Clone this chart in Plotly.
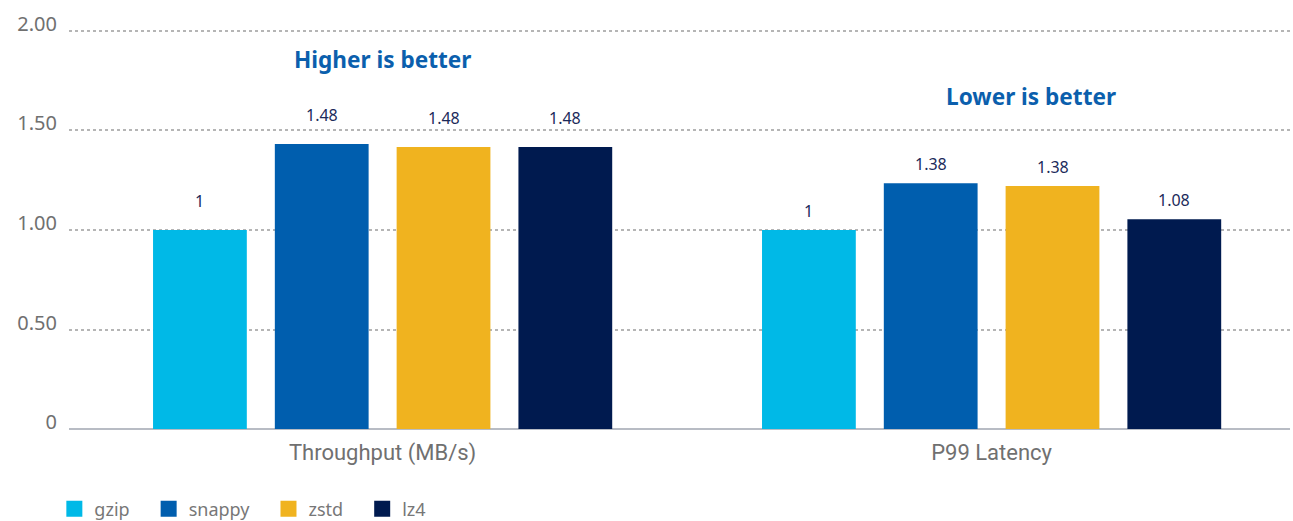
import plotly.graph_objects as go

categories = ["Throughput (MB/s)", "P99 Latency"]
series = ["gzip", "snappy", "zstd", "lz4"]
# bar heights as drawn
values = {
    "gzip":   [1.00, 1.00],
    "snappy": [1.432, 1.235],
    "zstd":   [1.417, 1.221],
    "lz4":    [1.417, 1.054],
}
# printed labels
labels = {
    "gzip":   ["1", "1"],
    "snappy": ["1.48", "1.38"],
    "zstd":   ["1.48", "1.38"],
    "lz4":    ["1.48", "1.08"],
}
colors = {"gzip": "#00b9e7", "snappy": "#005eae", "zstd": "#f0b31f", "lz4": "#001a4f"}
tick_vals = [0, 0.5, 1.0, 1.5, 2.0]
tick_text = ["0", "0.50", "1.00", "1.50", "2.00"]

FONT = "Noto Sans, Lato, sans-serif"
PAD = "\u00a0" * 3

fig = go.Figure()
for s in series:
    fig.add_trace(go.Bar(
        name=s, x=categories, y=values[s], showlegend=False,
        marker=dict(color=colors[s], line=dict(width=0)),
        hoverinfo="skip",
    ))
# legend entries (square swatches)
for s in series:
    fig.add_trace(go.Scatter(
        name=s + PAD, x=[None], y=[None], mode="markers",
        marker=dict(symbol="square", size=20, color=colors[s]),
        hoverinfo="skip",
    ))

# value labels above bars
n = len(series)
group_w = 0.8
slot = group_w / n
label_shift = [29, 19]
for i, s in enumerate(series):
    for j, c in enumerate(categories):
        xpos = j - group_w / 2 + slot * (i + 0.5)
        fig.add_annotation(
            x=xpos, y=values[s][j], text=labels[s][j], showarrow=False,
            yshift=label_shift[j], xref="x", yref="y",
            font=dict(family=FONT, size=16, color="#1b2a5a"),
        )

fig.add_annotation(x=0, y=1.857, xref="x", yref="y", text="<b>Higher is better</b>",
                   showarrow=False, font=dict(family=FONT, size=22.6, color="#0b5fad"))
fig.add_annotation(x=1.065, y=1.671, xref="x", yref="y", text="<b>Lower is better</b>",
                   showarrow=False, font=dict(family=FONT, size=22.6, color="#0b5fad"))

fig.update_layout(
    width=1293, height=521,
    margin=dict(l=69, r=3, t=29, b=92, autoexpand=False),
    paper_bgcolor="white", plot_bgcolor="white",
    barmode="group", bargap=0.2, bargroupgap=0.23,
    font=dict(family=FONT, color="#707070"),
    legend=dict(orientation="h", x=-0.012, xanchor="left", y=-0.2, yanchor="middle",
                font=dict(family=FONT, size=18, color="#777777"), itemwidth=30,
                itemsizing="trace"),
    xaxis=dict(
        type="category", range=[-0.515, 1.49], showgrid=False, ticks="",
        tickfont=dict(family="Roboto, sans-serif", size=22, color="#707070"),
        showline=False, automargin=False, ticklabelstandoff=8,
    ),
    yaxis=dict(
        range=[0, 2.01], tickvals=tick_vals, ticktext=tick_text,
        showgrid=True, gridcolor="#b5b5b5", gridwidth=1.5, griddash="dot",
        zeroline=True, zerolinecolor="#b8bcc4", zerolinewidth=2,
        tickfont=dict(family=FONT, size=20, color="#707070"),
        ticklabelstandoff=11, ticklabelshift=-7, ticks="", automargin=False,
    ),
)

fig.write_html(
    "out.html",
    config={"displayModeBar": False},
    post_script="document.body.style.margin='0px';document.body.style.overflow='hidden';",
)
